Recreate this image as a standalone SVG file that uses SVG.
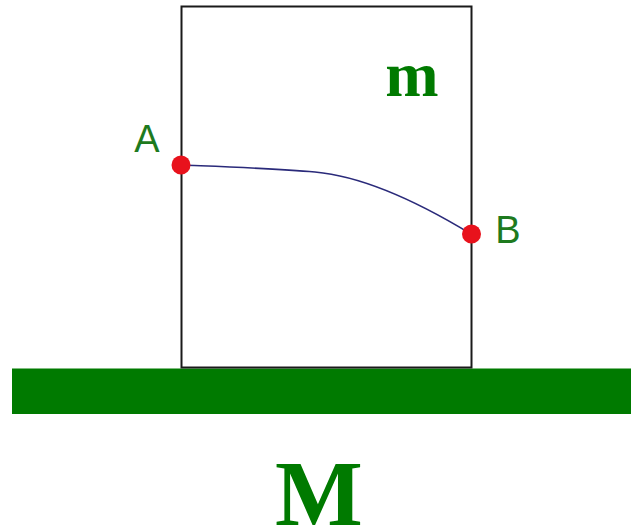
<svg xmlns="http://www.w3.org/2000/svg" width="631" height="529" viewBox="0 0 631 529">
<style>
.lbl{font-family:"Liberation Sans",Arial,sans-serif;font-size:38px;fill:#1e7a1e}
.big{font-family:"Liberation Serif","Times New Roman",serif;font-weight:bold;fill:#007a00}
.pt{fill:#e8121c}
</style>
<rect width="631" height="529" fill="#ffffff"/>
<g id="ground">
<rect x="12" y="368.5" width="619" height="45.5" fill="#007a00"/>
</g>
<g id="block">
<rect x="181.5" y="6.5" width="290" height="361" fill="#ffffff" stroke="#1a1a1a" stroke-width="2"/>
</g>
<g id="connectors">
<path d="M181,165 C230,167 275,168.5 315,172 C365,176.5 420,203 471,234" fill="none" stroke="#2a2a7a" stroke-width="1.6"/>
</g>
<g id="pointA">
<circle class="pt" cx="181" cy="165" r="9.5"/>
<text class="lbl" x="147" y="152" text-anchor="middle">A</text>
</g>
<g id="pointB">
<circle class="pt" cx="471.5" cy="234" r="9.5"/>
<text class="lbl" x="508" y="243" text-anchor="middle">B</text>
</g>
<g id="label-m">
<text class="big" x="412" y="96" text-anchor="middle" font-size="64">m</text>
</g>
<g id="label-M">
<text class="big" x="319" y="525" text-anchor="middle" font-size="93">M</text>
</g>
</svg>
